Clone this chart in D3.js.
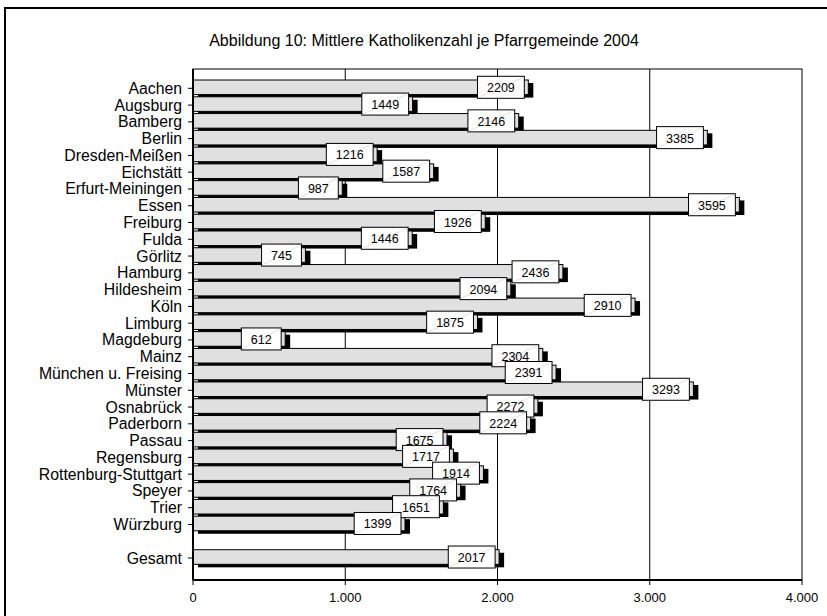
<!DOCTYPE html>
<html><head><meta charset="utf-8">
<script src="https://cdn.jsdelivr.net/npm/d3@7"></script>
<style>body{margin:0;background:#fff}svg{display:block}text{font-family:"Liberation Sans",Arial,sans-serif}</style>
</head><body>
<script>
const categories = ["Aachen","Augsburg","Bamberg","Berlin","Dresden-Meißen","Eichstätt","Erfurt-Meiningen","Essen","Freiburg","Fulda","Görlitz","Hamburg","Hildesheim","Köln","Limburg","Magdeburg","Mainz","München u. Freising","Münster","Osnabrück","Paderborn","Passau","Regensburg","Rottenburg-Stuttgart","Speyer","Trier","Würzburg","","Gesamt"];
const values = [2209,1449,2146,3385,1216,1587,987,3595,1926,1446,745,2436,2094,2910,1875,612,2304,2391,3293,2272,2224,1675,1717,1914,1764,1651,1399,null,2017];
const xTicks = [0,1000,2000,3000,4000];
const title = "Abbildung 10: Mittlere Katholikenzahl je Pfarrgemeinde 2004";

const W=827,H=616;
const svg=d3.select("body").append("svg").attr("width",W).attr("height",H);
svg.append("rect").attr("x",5).attr("y",8).attr("width",900).attr("height",700).attr("fill","#fff").attr("stroke","#000").attr("stroke-width",2);

const plot={l:193,r:802,t:69,b:580};
const x=d3.scaleLinear().domain([0,4000]).range([plot.l,plot.r]);
const y=d3.scaleBand().domain(categories.map((c,i)=>i)).range([79,79+29*16.77]).paddingInner(0.13).paddingOuter(0.06);

svg.append("text").attr("x",424).attr("y",46).attr("text-anchor","middle").attr("font-size",16).text(title);

// grid
svg.append("g").selectAll("line").data(xTicks.slice(1,4)).join("line")
  .attr("x1",d=>x(d)).attr("x2",d=>x(d)).attr("y1",plot.t).attr("y2",plot.b)
  .attr("stroke","#000").attr("stroke-width",1);
svg.append("rect").attr("x",plot.l).attr("y",plot.t).attr("width",plot.r-plot.l).attr("height",plot.b-plot.t)
  .attr("fill","none").attr("stroke","#000").attr("stroke-width",1);

const data=categories.map((c,i)=>({c,i,v:values[i]})).filter(d=>d.v!=null);
const bh=y.bandwidth();
const g=svg.append("g");
// shadow/depth
g.selectAll("rect.sh").data(data).join("rect").attr("class","sh")
  .attr("x",x(0)+5).attr("y",d=>y(d.i)+3).attr("width",d=>x(d.v)+4-(x(0)+5)).attr("height",bh)
  .attr("fill","#000");
g.selectAll("rect.fr").data(data).join("rect").attr("class","fr")
  .attr("x",x(0)).attr("y",d=>y(d.i)).attr("width",d=>x(d.v)-1-x(0)).attr("height",bh)
  .attr("fill","#e0e0e0").attr("stroke","#000").attr("stroke-width",1);

// labels
const lab=g.selectAll("g.lab").data(data).join("g").attr("class","lab");
lab.each(function(d){
  const s=d3.select(this);
  const t=s.append("text").attr("font-size",12.5).attr("text-anchor","middle").attr("dominant-baseline","central").text(d.v);
  const tw=t.node().getComputedTextLength();
  const bw=tw+19, bhh=22;
  const xr=x(d.v)-5, xl=xr-bw, cy=y(d.i)+bh/2;
  s.insert("rect","text").attr("x",xl).attr("y",cy-bhh/2).attr("width",bw).attr("height",bhh).attr("fill","#fff").attr("stroke","#000").attr("stroke-width",1);
  s.insert("line","text").attr("x1",xl+1).attr("y1",cy+bhh/2-1).attr("x2",xr-1).attr("y2",cy-bhh/2+1).attr("stroke","#ccc").attr("stroke-width",0.6);
  t.attr("x",(xl+xr)/2).attr("y",cy+1);
});

// y axis
svg.append("line").attr("x1",plot.l).attr("x2",plot.l).attr("y1",plot.t).attr("y2",plot.b).attr("stroke","#000").attr("stroke-width",2);
const cats=categories.map((c,i)=>({c,i})).filter(d=>d.c!=="");
svg.append("g").selectAll("line").data(cats).join("line")
  .attr("x1",plot.l-5).attr("x2",plot.l).attr("y1",d=>y(d.i)+bh/2+1).attr("y2",d=>y(d.i)+bh/2+1).attr("stroke","#000");
svg.append("g").selectAll("text").data(cats).join("text")
  .attr("x",182).attr("y",d=>y(d.i)+bh/2+1).attr("dominant-baseline","central").attr("text-anchor","end")
  .attr("font-size",15.8).text(d=>d.c);

// x axis
svg.append("line").attr("x1",plot.l).attr("x2",plot.r).attr("y1",plot.b).attr("y2",plot.b).attr("stroke","#000").attr("stroke-width",2);
svg.append("g").selectAll("line").data(xTicks).join("line")
  .attr("x1",d=>x(d)).attr("x2",d=>x(d)).attr("y1",plot.b).attr("y2",plot.b+5).attr("stroke","#000");
const fmt=d=>d3.format(",")(d).replace(/,/g,".");
svg.append("g").selectAll("text").data(xTicks).join("text")
  .attr("x",d=>x(d)).attr("y",602).attr("text-anchor","middle").attr("font-size",13).text(fmt);
</script>
</body></html>
